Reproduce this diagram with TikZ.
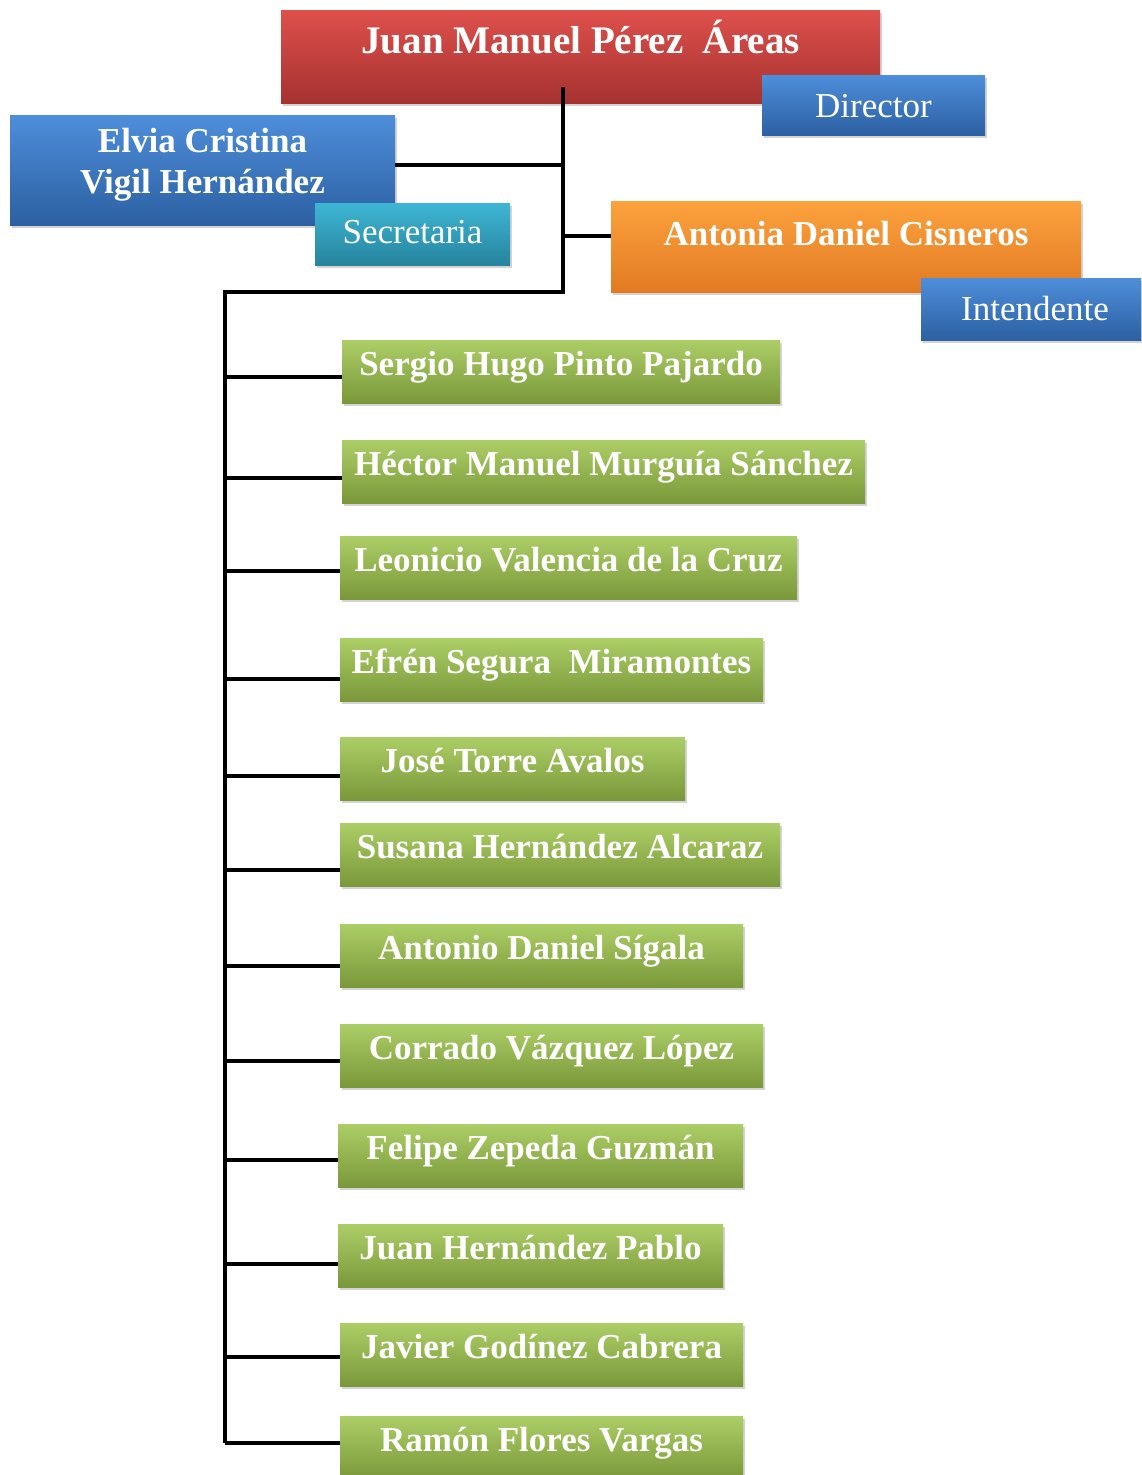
\documentclass[tikz,border=0pt]{standalone}
\usepackage{fontspec}
\setmainfont{Liberation Serif}
\usetikzlibrary{shadows}
\definecolor{redT}{RGB}{222,80,76}
\definecolor{redB}{RGB}{166,50,48}
\definecolor{blueT}{RGB}{78,142,218}
\definecolor{blueB}{RGB}{44,96,162}
\definecolor{tealT}{RGB}{62,182,212}
\definecolor{tealB}{RGB}{38,132,158}
\definecolor{oraT}{RGB}{252,162,62}
\definecolor{oraB}{RGB}{226,122,34}
\definecolor{grnT}{RGB}{172,206,102}
\definecolor{grnB}{RGB}{122,152,58}
\tikzset{
  base/.style={rectangle, inner sep=0pt, text=white,
    drop shadow={shadow xshift=2pt, shadow yshift=-3pt, opacity=0.35}},
  namefont/.style={font=\fontsize{35}{41}\selectfont\bfseries},
  rolefont/.style={font=\fontsize{35}{41}\selectfont},
  redbox/.style={base, namefont, font=\fontsize{39}{44}\selectfont\bfseries, top color=redT, bottom color=redB},
  bluebox/.style={base, top color=blueT, bottom color=blueB},
  tealbox/.style={base, top color=tealT, bottom color=tealB},
  orabox/.style={base, namefont, top color=oraT, bottom color=oraB},
  gbox/.style={base, namefont, top color=grnT, bottom color=grnB,
    minimum height=63pt, text height=24pt, text depth=16pt},
  conn/.style={line width=4pt, black}
}
\begin{document}
\begin{tikzpicture}[x=1pt,y=-1pt]
\useasboundingbox (0,0) rectangle (1141,1475);

% top level
\node[redbox, minimum width=599pt, minimum height=93pt, text height=24pt, text depth=31pt] (dir) at (580.5,56.5) {Juan Manuel Pérez\ \ Áreas};
\node[bluebox, rolefont, minimum width=223pt, minimum height=60pt, text height=24pt, text depth=0pt] (dirrole) at (873.5,105) {Director};

\node[bluebox, namefont, minimum width=385pt, minimum height=110pt, text height=24pt, text depth=60pt] (sec) at (202.5,170) {\begin{tabular}[t]{@{}c@{}}Elvia Cristina\\Vigil Hernández\end{tabular}};
\node[tealbox, rolefont, minimum width=195pt, minimum height=62pt, text height=24pt, text depth=6pt] (secrole) at (412.5,234) {Secretaria};

\node[orabox, minimum width=470pt, minimum height=91pt, text height=24pt, text depth=27pt] (int) at (846,246.5) {Antonia Daniel Cisneros};
\node[bluebox, rolefont, minimum width=220pt, minimum height=62pt, text height=24pt, text depth=2pt] (introle) at (1031,309) {\hspace*{8pt}Intendente};

% staff
\node[gbox, minimum width=438pt] (g1) at (561,371.5) {Sergio Hugo Pinto Pajardo};
\node[gbox, minimum width=523pt] (g2) at (603.5,471.5) {Héctor Manuel Murguía Sánchez};
\node[gbox, minimum width=457pt] (g3) at (568.5,567.5) {Leonicio Valencia de la Cruz};
\node[gbox, minimum width=423pt] (g4) at (551.5,669.5) {Efrén Segura\ \ Miramontes};
\node[gbox, minimum width=345pt] (g5) at (512.5,768.5) {José Torre Avalos};
\node[gbox, minimum width=440pt] (g6) at (560,854.5) {Susana Hernández Alcaraz};
\node[gbox, minimum width=403pt] (g7) at (541.5,955.5) {Antonio Daniel Sígala};
\node[gbox, minimum width=423pt] (g8) at (551.5,1055.5) {Corrado Vázquez López};
\node[gbox, minimum width=405pt] (g9) at (540.5,1155.5) {Felipe Zepeda Guzmán};
\node[gbox, minimum width=385pt] (g10) at (530.5,1255.5) {Juan Hernández Pablo};
\node[gbox, minimum width=403pt] (g11) at (541.5,1354.5) {Javier Godínez Cabrera};
\node[gbox, minimum width=403pt] (g12) at (541.5,1447.5) {Ramón Flores Vargas};

% connectors
\coordinate (top) at (563,87);
\coordinate (mid) at (563,292);
\coordinate (left) at (225,292);
\coordinate (bot) at (225,1443);
\coordinate (bs) at (563,165);
\coordinate (bo) at (563,236);
\draw[conn, line join=miter] (top) -- (mid) -- (left) -- (bot);
\draw[conn] (bs) -- (bs -| sec.east);
\draw[conn] (bo) -- (bo -| int.west);
\foreach \n/\y in {1/377, 2/478, 3/571, 4/679, 5/776, 6/870, 7/966, 8/1061, 9/1160, 10/1264, 11/1357, 12/1443}{
  \coordinate (b\n) at (225,\y);
  \draw[conn] (b\n) -- (b\n -| g\n.west);
}
\end{tikzpicture}
\end{document}
